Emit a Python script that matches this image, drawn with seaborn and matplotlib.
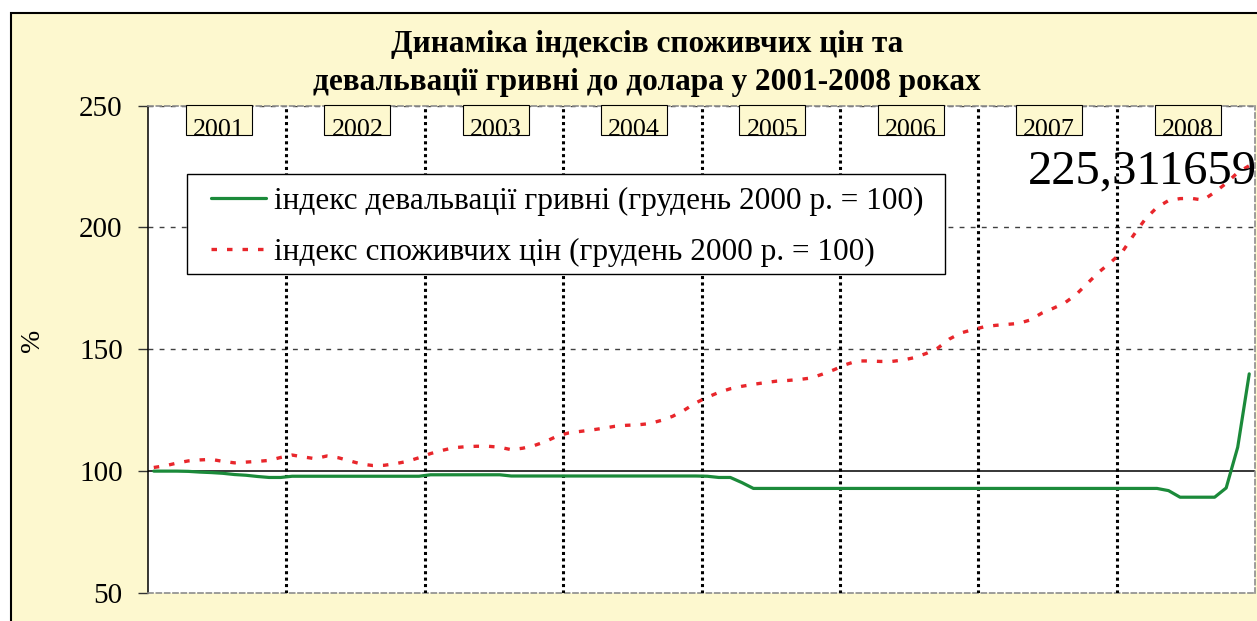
import numpy as np
import pandas as pd
import matplotlib
matplotlib.use("Agg")
import matplotlib.pyplot as plt
from matplotlib.patches import Rectangle
from matplotlib.transforms import blended_transform_factory
import seaborn as sns

years = [2001, 2002, 2003, 2004, 2005, 2006, 2007, 2008]

# індекс споживчих цін, помісячно (грудень 2000 = 100)
cpi = [
    101.5, 102.2, 103.3, 104.2, 104.6, 104.8, 104.0, 103.4, 103.7, 104.0, 104.4, 105.6,
    106.6, 105.8, 105.1, 106.2, 105.5, 104.2, 102.9, 102.3, 102.4, 103.1, 104.0, 105.5,
    107.2, 108.5, 109.6, 110.0, 110.2, 110.2, 109.8, 108.8, 109.4, 110.5, 112.2, 114.4,
    115.7, 116.3, 116.9, 117.6, 118.4, 118.8, 119.0, 119.5, 120.8, 122.5, 125.0, 128.0,
    130.3, 132.3, 133.8, 134.8, 135.6, 136.3, 136.9, 137.2, 137.6, 138.2, 139.8, 141.6,
    143.7, 145.2, 145.2, 145.0, 145.0, 145.6, 146.6, 148.3, 150.5, 154.2, 156.7, 158.0,
    159.2, 159.8, 160.2, 160.6, 162.0, 164.8, 166.8, 169.0, 172.5, 177.2, 181.8, 185.7,
    190.0, 197.0, 203.5, 208.2, 211.0, 211.8, 211.9, 211.2, 214.4, 218.1, 222.5, 225.311659,
]

# індекс девальвації гривні, помісячно (грудень 2000 = 100)
deval = [
    100.0, 100.0, 100.0, 99.9, 99.6, 99.4, 99.1, 98.6, 98.3, 97.8, 97.4, 97.4,
    97.9, 97.9, 97.9, 97.9, 97.9, 97.9, 97.9, 97.9, 97.9, 97.9, 97.9, 97.9,
    98.5, 98.5, 98.5, 98.5, 98.5, 98.5, 98.5, 98.0, 98.0, 98.0, 98.0, 98.0,
    98.0, 98.0, 98.0, 98.0, 98.0, 98.0, 98.0, 98.0, 98.0, 98.0, 98.0, 98.0,
    97.9, 97.4, 97.4, 95.3, 92.9, 92.9, 92.9, 92.9, 92.9, 92.9, 92.9, 92.9,
    92.9, 92.9, 92.9, 92.9, 92.9, 92.9, 92.9, 92.9, 92.9, 92.9, 92.9, 92.9,
    92.9, 92.9, 92.9, 92.9, 92.9, 92.9, 92.9, 92.9, 92.9, 92.9, 92.9, 92.9,
    92.9, 92.9, 92.9, 92.9, 92.0, 89.3, 89.3, 89.3, 89.3, 93.1, 109.8, 139.9,
]

label_deval = "індекс девальвації гривні (грудень 2000 р. = 100)"
label_cpi = "індекс споживчих цін (грудень 2000 р. = 100)"
title_lines = ["Динаміка індексів споживчих цін та",
               "девальвації гривні до долара у 2001-2008 роках"]
y_ticks = [50, 100, 150, 200, 250]

W, H = 1257, 621
BG = "#fdf8cf"
GREEN = "#1b8a3a"
RED = "#e8262b"

sns.set_theme(style="white")
plt.rcParams["font.family"] = ["Liberation Serif", "DejaVu Serif"]
plt.rcParams["text.color"] = "black"
plt.rcParams["ytick.color"] = "black"

fig = plt.figure(figsize=(W / 100, H / 100), dpi=100)
fig.patch.set_facecolor("white")
fig.add_artist(Rectangle((11 / W, -0.1), 1.2, 1 - 13 / H + 0.1, transform=fig.transFigure,
                         facecolor=BG, edgecolor="black", lw=1.5, zorder=-1))

ax = fig.add_axes([148 / W, 1 - 593 / H, (1255 - 148) / W, (593 - 105.5) / H])
ax.set_facecolor("white")

df = pd.DataFrame({"month": np.arange(len(cpi)), "deval": deval, "cpi": cpi})
sns.lineplot(data=df, x="month", y="deval", ax=ax, color=GREEN, lw=2.3,
             label=label_deval, zorder=4)
sns.lineplot(data=df, x="month", y="cpi", ax=ax, color=RED, lw=2.4,
             linestyle=(0, (1.65, 3.0)), label=label_cpi, zorder=4)

ax.set_xlim(-0.5, len(cpi) - 0.5)
ax.set_ylim(y_ticks[0], y_ticks[-1])
ax.set_yticks(y_ticks)
ax.set_xticks([])
ax.set_xlabel("")
ax.set_ylabel("")
ax.tick_params(axis="y", left=True, direction="out", length=7.2, width=1.0,
               color="#333333", labelsize=21, pad=11)

# сітка
for y in y_ticks[2:]:
    ax.axhline(y, color="#404040", lw=1.0, linestyle=(0, (3.5, 4.5)), zorder=1)
ax.axhline(100, color="black", lw=1.1, zorder=2)
for k in range(1, len(years)):
    ax.axvline(k * 12 - 0.5, color="black", lw=2.2, linestyle=(0, (1.0, 1.1)), zorder=3)

ax.spines["left"].set_color("black")
ax.spines["left"].set_linewidth(1.1)
for s in ["top", "right", "bottom"]:
    ax.spines[s].set_color("#8c8c8c")
    ax.spines[s].set_linewidth(1.2)
    ax.spines[s].set_linestyle((0, (3, 2)))

# підписи років у рамках
trans = blended_transform_factory(ax.transData, ax.transAxes)
box_w, box_h = 5.72, 29 / 487.5
for k, yr in enumerate(years):
    cx = k * 12 + 5.65
    rect = Rectangle((cx - box_w / 2, 1 - box_h), box_w, box_h, transform=trans,
                     facecolor=BG, edgecolor="black", lw=0.8, zorder=5, clip_on=False)
    ax.add_patch(rect)
    t = ax.text(cx, 1 - 30.6 / 487.5, str(yr), transform=trans, ha="center",
                va="baseline", fontsize=18.7, zorder=6)
    t.set_clip_path(rect)

ax.annotate(f"{cpi[-1]:.6f}".replace(".", ","), xy=(len(cpi) - 1, cpi[-1]),
            xytext=(-221, -18), textcoords="offset pixels", ha="left", va="baseline",
            fontsize=35, annotation_clip=False, zorder=7)

# легенда: рамка окремо, щоб відступи збігалися
fig.add_artist(Rectangle((187 / W, 1 - 274 / H), (945 - 187) / W, 100 / H,
                         transform=fig.transFigure, facecolor="white",
                         edgecolor="black", lw=1.0, zorder=8))
leg = ax.legend(loc="upper left", bbox_to_anchor=(211 / W, 1 - 187 / H),
                bbox_transform=fig.transFigure, borderaxespad=0, borderpad=0,
                frameon=False, fontsize=22.5, handlelength=1.75, handletextpad=0.25,
                labelspacing=0.7)
leg.set_zorder(9)
leg.remove()
fig.add_artist(leg)

fig.text(647 / W, 1 - 52 / H, title_lines[0], ha="center", va="baseline",
         fontsize=22.5, fontweight="bold")
fig.text(647 / W, 1 - 90 / H, title_lines[1], ha="center", va="baseline",
         fontsize=22.5, fontweight="bold")
fig.text(33 / W, 1 - 340 / H, "%", rotation=90, ha="center", va="center", fontsize=20)

fig.savefig("out.png", dpi=100, facecolor=fig.get_facecolor())
plt.close(fig)
